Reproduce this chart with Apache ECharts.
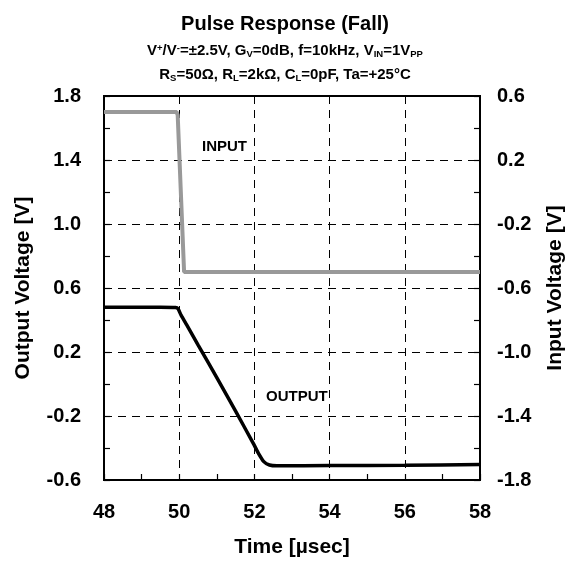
<!DOCTYPE html>
<html><head><meta charset="utf-8">
<script src="https://cdn.jsdelivr.net/npm/echarts@6/dist/echarts.min.js"></script>
<style>html,body{margin:0;padding:0;background:#fff}#c{width:570px;height:562px}</style>
</head><body><div id="c"></div>
<script>
var timeTicks = [48, 50, 52, 54, 56, 58];
var outputLeftTicks = [-0.6, -0.2, 0.2, 0.6, 1.0, 1.4, 1.8];
var inputRightTicks = [-1.8, -1.4, -1.0, -0.6, -0.2, 0.2, 0.6];
var inputData = [[48, 0.5], [49.93, 0.5], [49.96, 0.48], [50.13, -0.5], [58, -0.5]];
var outputData = [[48, 0.48], [49.5, 0.48], [49.9, 0.478], [49.97, 0.47], [50.05, 0.43], [50.2, 0.369], [50.5, 0.245], [51.0, 0.04], [51.5, -0.17], [51.97, -0.371], [52.1, -0.43], [52.25, -0.485], [52.4, -0.506], [52.6, -0.511], [54, -0.51], [56, -0.508], [58, -0.503]];

var FF = '"Liberation Sans", Arial, sans-serif';
var chart = echarts.init(document.getElementById('c'));
var sub = {fontSize: 9.5, fontWeight: 'bold', fontFamily: FF, color: '#000', verticalAlign: 'bottom', padding: [6, 0, 0, 0]};
var sup = {fontSize: 9.5, fontWeight: 'bold', fontFamily: FF, color: '#000', verticalAlign: 'top', padding: [0, 0, 6, 0]};
var n = {fontSize: 15, fontWeight: 'bold', fontFamily: FF, color: '#000'};
function yAxisCommon(ticks) {
  return {
    type: 'value', min: ticks[0], max: ticks[ticks.length - 1], interval: 0.4,
    axisLine: {show: true, onZero: false, lineStyle: {color: '#000', width: 2}},
    axisTick: {show: true, inside: true, length: 6, lineStyle: {color: '#000', width: 1.2}},
    minorTick: {show: true, splitNumber: 2, length: 6, lineStyle: {color: '#000', width: 1.2}},
    axisLabel: {fontSize: 20, fontWeight: 'bold', fontFamily: FF, color: '#000', formatter: function (v) { return v.toFixed(1); }},
    nameLocation: 'middle', nameTextStyle: {fontSize: 21, fontWeight: 'bold', fontFamily: FF, color: '#000'}
  };
}
var yL = yAxisCommon(outputLeftTicks);
yL.name = 'Output Voltage [V]'; yL.nameGap = 70; yL.position = 'left';
yL.axisLabel.margin = 23;
yL.splitLine = {show: true, lineStyle: {color: '#000', width: 1, type: [8, 6]}};
var yR = yAxisCommon(inputRightTicks);
yR.name = 'Input Voltage [V]'; yR.nameGap = 65; yR.position = 'right'; yR.nameRotate = 90;
yR.axisLabel.margin = 17;
yR.splitLine = {show: false};

chart.setOption({
  animation: false,
  backgroundColor: '#fff',
  title: [
    {text: 'Pulse Response (Fall)', left: 'center', top: 9, textStyle: {fontSize: 20, fontWeight: 'bold', fontFamily: FF, color: '#000'}},
    {text: '{n|V}{sup|+}{n|/V}{sup|-}{n|=±2.5V, G}{sub|V}{n|=0dB, f=10kHz, V}{sub|IN}{n|=1V}{sub|PP}', left: 'center', top: 38,
      textStyle: {rich: {n: n, sub: sub, sup: sup}}},
    {text: '{n|R}{sub|S}{n|=50Ω, R}{sub|L}{n|=2kΩ, C}{sub|L}{n|=0pF, Ta=+25°C}', left: 'center', top: 62,
      textStyle: {rich: {n: n, sub: sub, sup: sup}}}
  ],
  grid: {left: 104, right: 90, top: 96, bottom: 82, outerBoundsMode: 'none', containLabel: false, show: true, borderColor: '#000', borderWidth: 2, backgroundColor: 'transparent'},
  xAxis: {
    type: 'value', min: timeTicks[0], max: timeTicks[timeTicks.length - 1], interval: 2,
    name: 'Time [µsec]', nameLocation: 'middle', nameGap: 57,
    nameTextStyle: {fontSize: 21, fontWeight: 'bold', fontFamily: FF, color: '#000'},
    axisLine: {show: true, onZero: false, lineStyle: {color: '#000', width: 2}},
    axisTick: {show: true, inside: true, length: 6, lineStyle: {color: '#000', width: 1.2}},
    minorTick: {show: true, splitNumber: 2, length: 6, lineStyle: {color: '#000', width: 1.2}},
    axisLabel: {fontSize: 20, fontWeight: 'bold', fontFamily: FF, color: '#000', margin: 22},
    splitLine: {show: true, lineStyle: {color: '#000', width: 1, type: [8, 6]}}
  },
  yAxis: [yL, yR],
  graphic: [
    {type: 'text', left: 202, top: 139, style: {text: 'INPUT', fontSize: 15, fontWeight: 'bold', fontFamily: FF, fill: '#000'}},
    {type: 'text', left: 266, top: 389, style: {text: 'OUTPUT', fontSize: 15, fontWeight: 'bold', fontFamily: FF, fill: '#000'}}
  ],
  series: [
    {type: 'line', yAxisIndex: 1, data: inputData, showSymbol: false, symbol: 'none', lineStyle: {color: '#999', width: 4}, z: 3},
    {type: 'line', yAxisIndex: 0, data: outputData, showSymbol: false, symbol: 'none', smooth: 0.2, lineStyle: {color: '#000', width: 3.5}, z: 4}
  ]
});
</script></body></html>
